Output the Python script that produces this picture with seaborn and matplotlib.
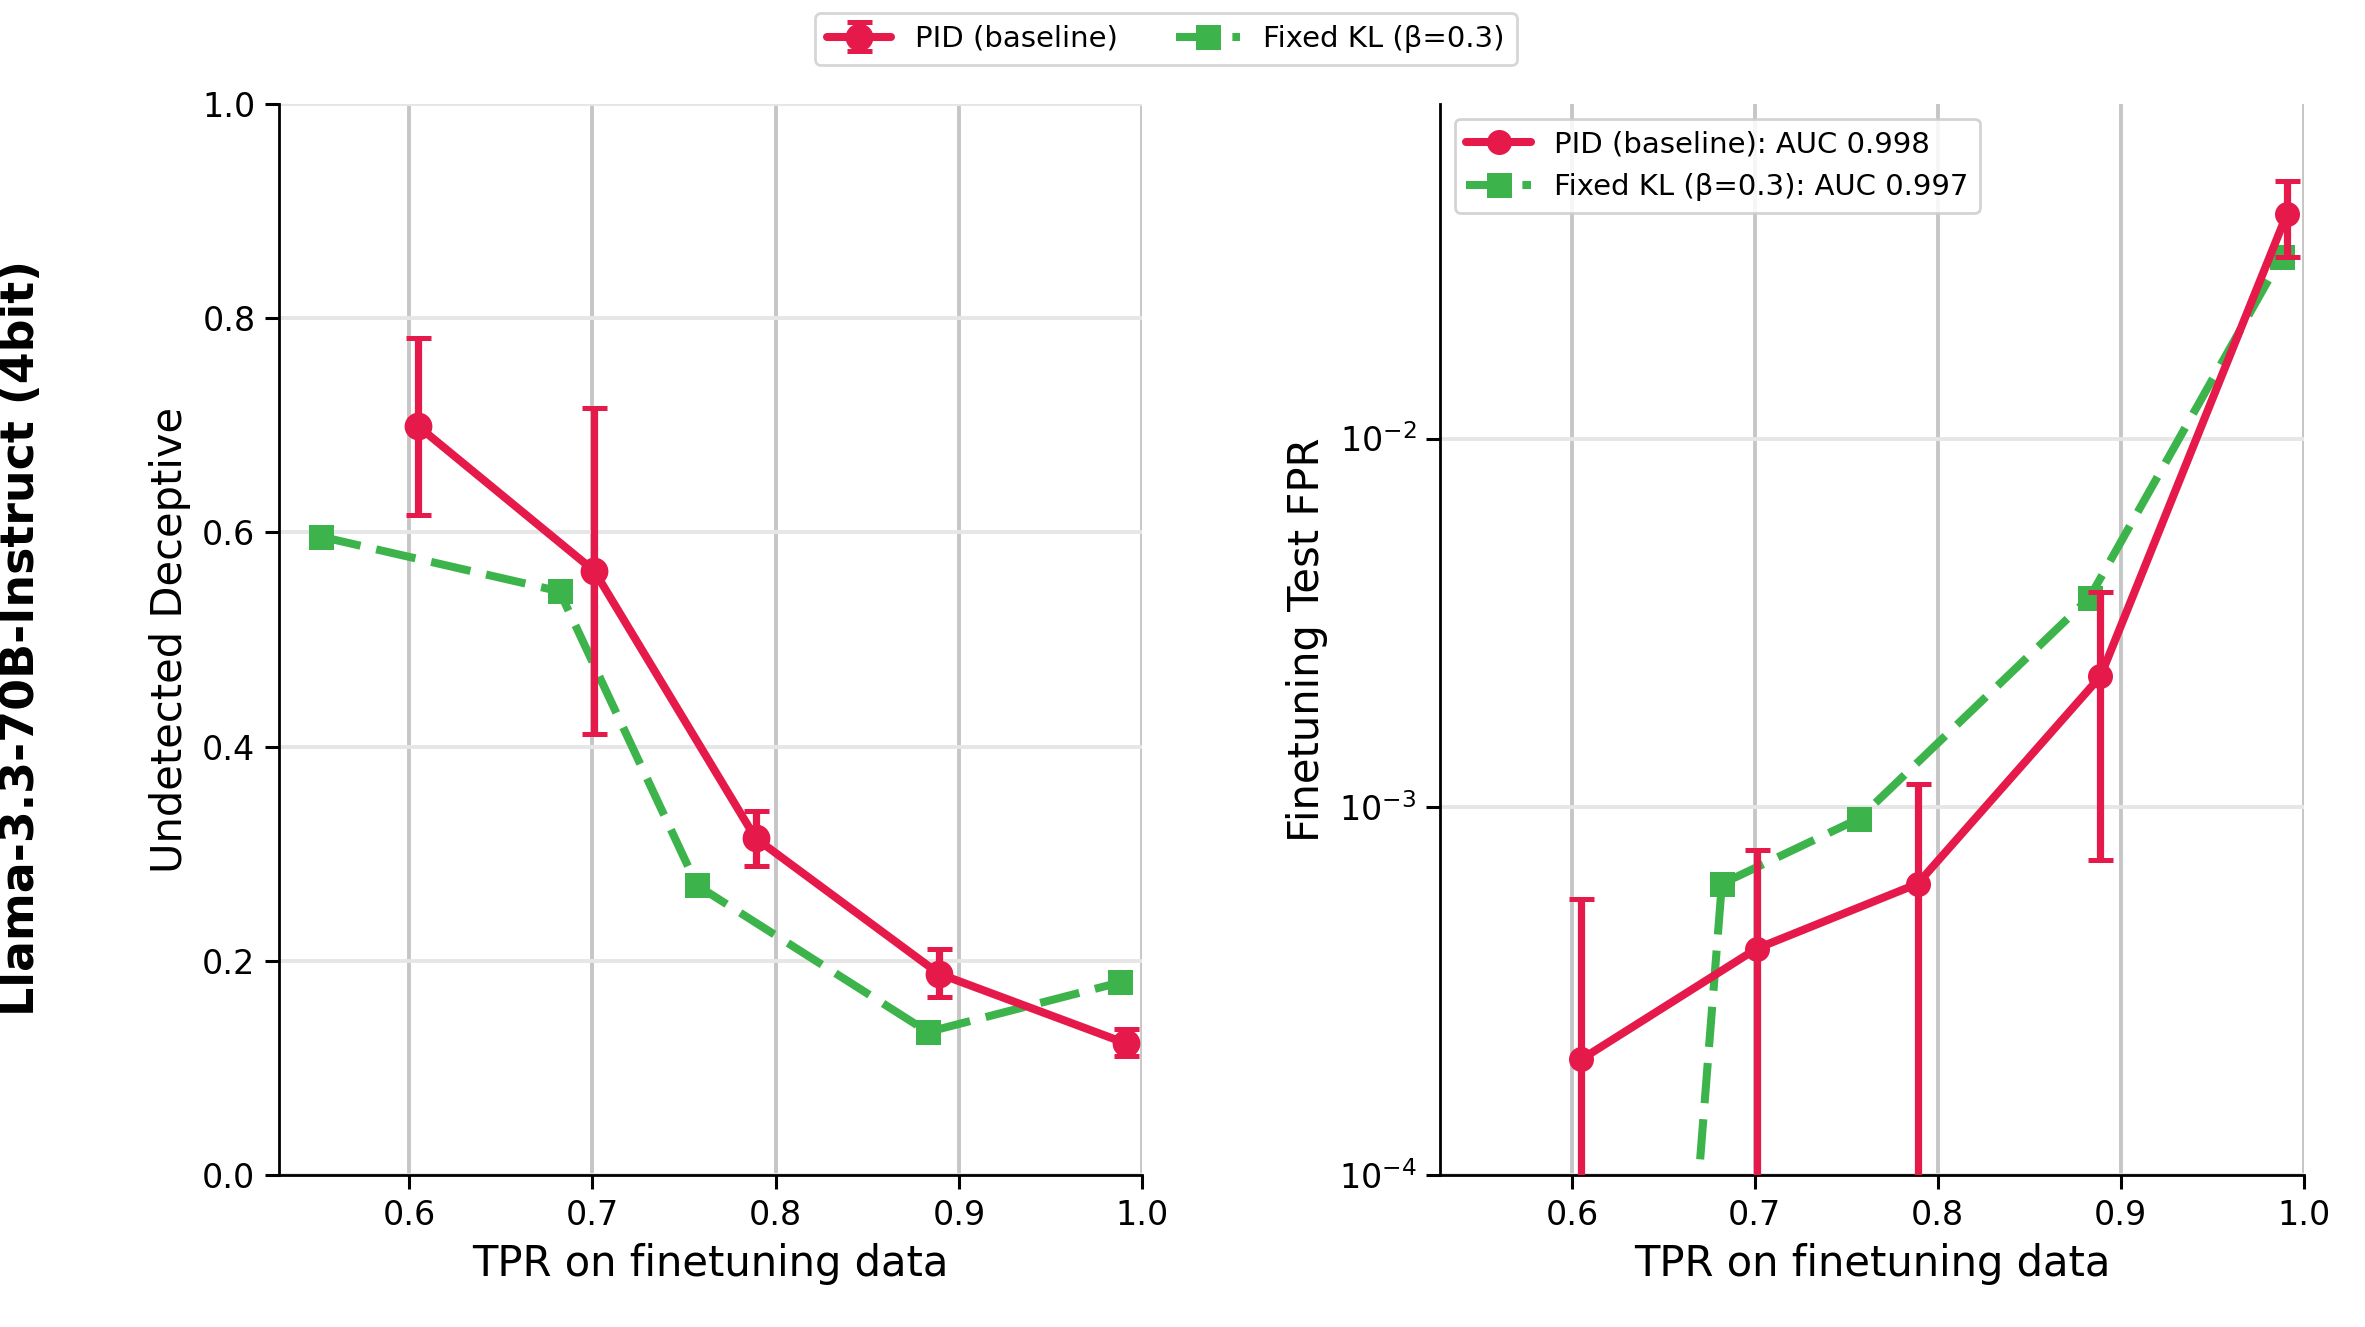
import numpy as np
import pandas as pd
import matplotlib
matplotlib.use("Agg")
import matplotlib.pyplot as plt
from matplotlib.ticker import NullLocator, LogLocator
import seaborn as sns

# ---------------- data ----------------
pid_tpr = [0.605, 0.701, 0.789, 0.889, 0.991]
pid_undetected = [0.699, 0.564, 0.3145, 0.188, 0.123]
pid_undetected_lo = [0.616, 0.412, 0.289, 0.166, 0.111]
pid_undetected_hi = [0.782, 0.716, 0.340, 0.211, 0.136]
pid_fpr = [2.06e-4, 4.12e-4, 6.18e-4, 2.26e-3, 0.0408]
pid_fpr_lo = [0.0, 0.0, 0.0, 7.16e-4, 0.0312]
pid_fpr_hi = [5.61e-4, 7.64e-4, 1.15e-3, 3.83e-3, 0.0501]

kl_tpr = [0.552, 0.682, 0.757, 0.883, 0.988]
kl_undetected = [0.596, 0.545, 0.2705, 0.1336, 0.180]
kl_fpr = [4e-12, 6.18e-4, 9.29e-4, 3.70e-3, 0.0312]

pid_label = "PID (baseline)"
kl_label = "Fixed KL (β=0.3)"
pid_auc = "0.998"
kl_auc = "0.997"
row_label = "Llama-3.3-70B-Instruct (4bit)"
xlabel = "TPR on finetuning data"
ylabel_left = "Undetected Deceptive"
ylabel_right = "Finetuning Test FPR"

RED = "#E6194B"
GREEN = "#3CB44B"

# ---------------- style ----------------
sns.set_style("ticks", {"axes.edgecolor": "black", "text.color": "black",
                        "axes.labelcolor": "black", "xtick.color": "black",
                        "ytick.color": "black"})
plt.rcParams["font.family"] = ["DejaVu Sans"]
plt.rcParams["axes.linewidth"] = 1.0

fig, (ax1, ax2) = plt.subplots(1, 2, figsize=(11.825, 6.635), dpi=200)
fig.subplots_adjust(left=0.118, right=0.974, bottom=0.1145, top=0.9216, wspace=0.345)

df_pid = pd.DataFrame({"tpr": pid_tpr, "und": pid_undetected, "fpr": pid_fpr})
df_kl = pd.DataFrame({"tpr": kl_tpr, "und": kl_undetected, "fpr": kl_fpr})

lw = 2.9
ms = 9
dash = (0, (5.0, 2.0))

# ---- left panel ----
y = np.array(pid_undetected)
yerr = [y - np.array(pid_undetected_lo), np.array(pid_undetected_hi) - y]
ax1.errorbar(pid_tpr, pid_undetected, yerr=yerr, color=RED, lw=lw, marker="o",
             ms=ms, capsize=4.5, capthick=1.8, elinewidth=2.6, label=pid_label, zorder=4)
sns.lineplot(data=df_kl, x="tpr", y="und", ax=ax1, color=GREEN, lw=lw, marker="s",
             markersize=ms, markeredgewidth=0, linestyle=dash, label=kl_label, zorder=3)
ax1.set_xlim(0.529, 1.0)
ax1.set_ylim(0, 1.0)
ax1.set_xticks([0.6, 0.7, 0.8, 0.9, 1.0])
ax1.set_yticks([0.0, 0.2, 0.4, 0.6, 0.8, 1.0])
ax1.set_xlabel(xlabel, fontsize=15)
ax1.set_ylabel(ylabel_left, fontsize=15)
handles, labels = ax1.get_legend_handles_labels()
ax1.get_legend().remove()
order = sorted(range(len(labels)), key=lambda i: 0 if labels[i] == pid_label else 1)
handles = [handles[i] for i in order]
labels = [labels[i] for i in order]

# ---- right panel ----
y2 = np.array(pid_fpr)
yerr2 = [y2 - np.array(pid_fpr_lo), np.array(pid_fpr_hi) - y2]
ax2.errorbar(pid_tpr, pid_fpr, yerr=yerr2, color=RED, lw=0, elinewidth=2.6,
             capsize=4.5, capthick=1.8, fmt="none", zorder=4)
sns.lineplot(data=df_pid, x="tpr", y="fpr", ax=ax2, color=RED, lw=lw, marker="o",
             markersize=ms, markeredgewidth=0, label=f"{pid_label}: AUC {pid_auc}", zorder=4)
sns.lineplot(data=df_kl, x="tpr", y="fpr", ax=ax2, color=GREEN, lw=lw, marker="s",
             markersize=ms, markeredgewidth=0, linestyle=dash,
             label=f"{kl_label}: AUC {kl_auc}", zorder=3)
ax2.set_yscale("log")
ax2.set_xlim(0.528, 1.0)
ax2.set_ylim(1e-4, 0.081)
ax2.set_xticks([0.6, 0.7, 0.8, 0.9, 1.0])
ax2.yaxis.set_major_locator(LogLocator(base=10, numticks=10))
ax2.yaxis.set_minor_locator(NullLocator())
ax2.set_xlabel(xlabel, fontsize=15)
ax2.set_ylabel(ylabel_right, fontsize=15)
ax2.legend(loc="upper left", fontsize=10.5, handlelength=2.2, handletextpad=0.8,
           frameon=True, edgecolor="#cccccc", framealpha=0.85)

for ax in (ax1, ax2):
    ax.tick_params(axis="both", labelsize=12, length=5, width=1.1, color="black")
    ax.grid(axis="x", color="#c6c6c6", lw=1.4)
    ax.grid(axis="y", color="#e6e6e6", lw=1.4)
    ax.set_axisbelow(True)
    sns.despine(ax=ax)

fig.legend(handles, labels, loc="center", ncol=2,
           bbox_to_anchor=(1166 / 2365, 1 - 39 / 1327), fontsize=10.5,
           handlelength=2.2, handletextpad=0.8, columnspacing=2.0,
           frameon=True, edgecolor="#cccccc")

fig.text(0.009, 0.519, row_label, rotation=90, va="center", ha="center",
         fontsize=16.5, fontweight="bold")

fig.savefig("out.png", dpi=200)
